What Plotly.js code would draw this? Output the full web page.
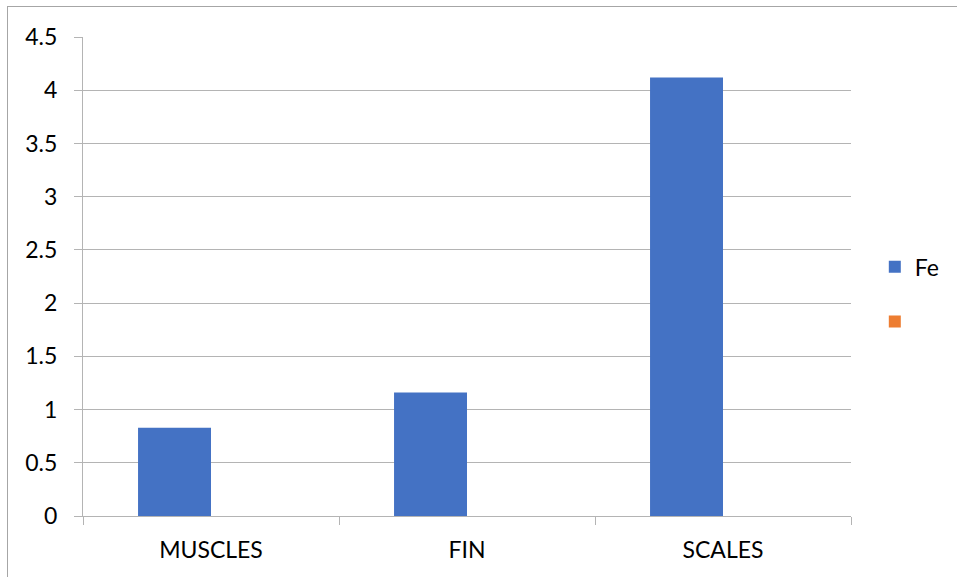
<!DOCTYPE html>
<html>
<head>
<meta charset="utf-8">
<script src="https://cdn.plot.ly/plotly-3.0.1.min.js"></script>
<style>
  html, body { margin: 0; padding: 0; background: #fff; }
  #frame { position: absolute; left: 0; top: 0; width: 957px; height: 577px; }
  #edge { position: absolute; left: 7px; top: 6px; width: 960px; height: 580px;
          border-left: 1.5px solid #a6a6a6; border-top: 1.5px solid #a6a6a6; pointer-events: none; }
</style>
</head>
<body>
<div id="frame"></div>
<div id="edge"></div>
<script>
// Sample tissues and measured Fe content
const categories = ['MUSCLES', 'FIN', 'SCALES'];
const feValues = [0.83, 1.16, 4.12];
// Second series is present in the legend but holds no values
const otherValues = [null, null, null];
const yTickValues = [0, 0.5, 1, 1.5, 2, 2.5, 3, 3.5, 4, 4.5];
const yTickLabels = ['0', '0.5', '1', '1.5', '2', '2.5', '3', '3.5', '4', '4.5'];

const FONT = 'Lato, "Open Sans", sans-serif';
const GRID = '#b4b4b4';

const traces = [
  {
    type: 'bar', name: 'Fe', x: categories, y: feValues,
    marker: { color: '#4472C4', line: { width: 0 } },
    legendgroup: 'a', hoverinfo: 'x+y'
  },
  {
    type: 'bar', name: ' ', x: categories, y: otherValues,
    marker: { color: '#ED7D31', line: { width: 0 } },
    legendgroup: 'b', showlegend: true, hoverinfo: 'x+y'
  }
];

const layout = {
  width: 957, height: 577,
  margin: { l: 83, r: 106, t: 37, b: 61, pad: 0 },
  paper_bgcolor: '#ffffff', plot_bgcolor: '#ffffff',
  font: { family: FONT, size: 23, color: '#000000' },
  barmode: 'group', bargap: 0.43, bargroupgap: 0,
  showlegend: true,
  legend: {
    x: 1.031, xanchor: 'left', y: 0.463, yanchor: 'middle',
    traceorder: 'grouped', tracegroupgap: 22,
    font: { family: FONT, size: 23, color: '#000' },
    bgcolor: 'rgba(0,0,0,0)'
  },
  xaxis: {
    type: 'category', tickson: 'boundaries',
    showgrid: false, zeroline: false,
    showline: true, linecolor: GRID, linewidth: 1,
    ticks: 'outside', ticklen: 8, tickcolor: GRID, tickwidth: 1,
    ticklabelstandoff: 13,
    tickfont: { family: FONT, size: 23, color: '#000' }
  },
  yaxis: {
    range: [0, 4.5], tickmode: 'array', tickvals: yTickValues, ticktext: yTickLabels,
    showgrid: true, gridcolor: GRID, gridwidth: 1,
    zeroline: false,
    showline: true, linecolor: GRID, linewidth: 1,
    ticks: 'outside', ticklen: 8, tickcolor: GRID, tickwidth: 1,
    ticklabelstandoff: 12,
    tickfont: { family: FONT, size: 23, color: '#000' }
  }
};

Plotly.newPlot('frame', traces, layout, { displayModeBar: false, staticPlot: true });
</script>
</body>
</html>
